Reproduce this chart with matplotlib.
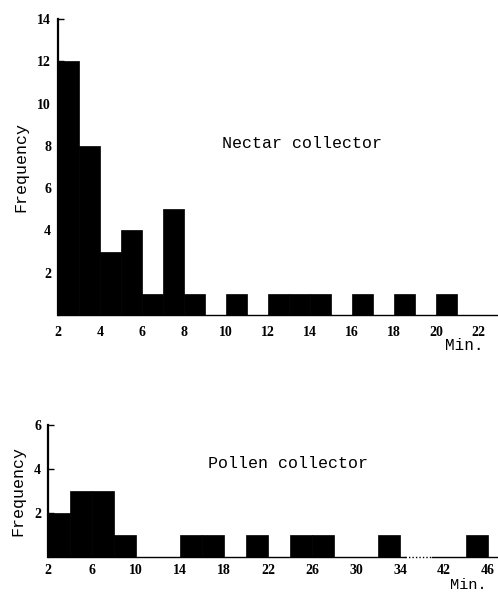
import numpy as np
import matplotlib.pyplot as plt

# ----------------------------
# data
# ----------------------------
# nectar collector: 1-min bins starting at 2 min
nectar_edges = np.arange(2, 22, 1)
nectar_freq = [12, 8, 3, 4, 1, 5, 1, 0, 1, 0, 1, 1, 1, 0, 1, 0, 1, 0, 1, 0]
nectar_xticks = list(range(2, 23, 2))
nectar_yticks = list(range(2, 15, 2))

# pollen collector: 2-min bins, axis broken between 34 and 42 min
pollen_edges = [2, 4, 6, 8, 10, 12, 14, 16, 18, 20, 22, 24, 26, 28, 30, 32, 42, 44]
pollen_freq = [2, 3, 3, 1, 0, 0, 1, 1, 0, 1, 0, 1, 1, 0, 0, 1, 0, 1]
pollen_xticks = [2, 6, 10, 14, 18, 22, 26, 30, 34, 42, 46]
pollen_yticks = [2, 4, 6]
break_lo, break_hi = 34, 42
break_shown = 4   # minutes of axis kept for the break


def squeeze(x):
    x = np.asarray(x, dtype=float)
    return np.where(x >= break_hi, x - (break_hi - break_lo - break_shown), x)


tick_font = dict(family='Liberation Serif', weight='bold', size=10)
text_font = dict(family='Liberation Mono', size=12)

fig = plt.figure(figsize=(4.98, 5.93), dpi=100)

# -------- nectar --------
ax1 = fig.add_axes([58/498, 1 - 315/593, 440/498, 296/593])
ax1.bar(nectar_edges, nectar_freq, width=1, align='edge', color='black',
        edgecolor='black', linewidth=0.5)
ax1.set_xlim(2, 22.95)
ax1.set_ylim(0, 14)
ax1.set_xticks(nectar_xticks)
ax1.set_yticks(nectar_yticks)
ax1.set_xticklabels([str(v) for v in nectar_xticks], fontdict=tick_font)
ax1.set_yticklabels([str(v) for v in nectar_yticks], fontdict=tick_font)
ax1.tick_params(axis='x', length=0, pad=8)
ax1.tick_params(axis='y', length=4, direction='in', pad=5, width=1)
ax1.spines['top'].set_visible(False)
ax1.spines['right'].set_visible(False)
ax1.spines['left'].set_linewidth(1.6)
ax1.spines['bottom'].set_linewidth(1.0)
ax1.set_ylabel('Frequency', fontdict=text_font, labelpad=6)
ax1.text(9.8, 8.1, 'Nectar collector', ha='left', va='center', **text_font)
fig.text(464/498, 1 - 346/593, 'Min.', ha='center', va='center',
         family='Liberation Mono', size=11.5)

# -------- pollen --------
ax2 = fig.add_axes([48/498, 1 - 557/593, 450/498, 132/593])
ax2.bar(squeeze(pollen_edges), pollen_freq, width=2, align='edge', color='black',
        edgecolor='black', linewidth=0.5)
ax2.set_xlim(2, 42.9)
ax2.set_ylim(0, 6)
ax2.set_xticks(squeeze(pollen_xticks))
ax2.set_yticks(pollen_yticks)
ax2.set_xticklabels([str(v) for v in pollen_xticks], fontdict=tick_font)
ax2.set_yticklabels([str(v) for v in pollen_yticks], fontdict=tick_font)
ax2.tick_params(axis='x', length=0, pad=5)
ax2.tick_params(axis='y', length=4, direction='in', pad=5, width=1)
for s in ['top', 'right', 'bottom']:
    ax2.spines[s].set_visible(False)
ax2.spines['left'].set_linewidth(1.6)
# baseline with a dotted gap for the broken axis
gap_a, gap_b = break_lo + 0.45, break_lo + break_shown - 1.1
ax2.plot([2, gap_a], [0, 0], color='black', lw=1.0, clip_on=False)
ax2.plot([gap_a, gap_b], [0, 0], color='black', lw=1.0, ls=(0, (1, 1.5)), clip_on=False)
ax2.plot([gap_b, 42.9], [0, 0], color='black', lw=1.0, clip_on=False)
ax2.set_ylabel('Frequency', fontdict=text_font, labelpad=6)
ax2.text(16.5, 4.27, 'Pollen collector', ha='left', va='center', **text_font)
fig.text(468/498, 1/593, 'Min.', ha='center', va='bottom',
         family='Liberation Mono', size=11)

fig.savefig('out.png', dpi=100)
